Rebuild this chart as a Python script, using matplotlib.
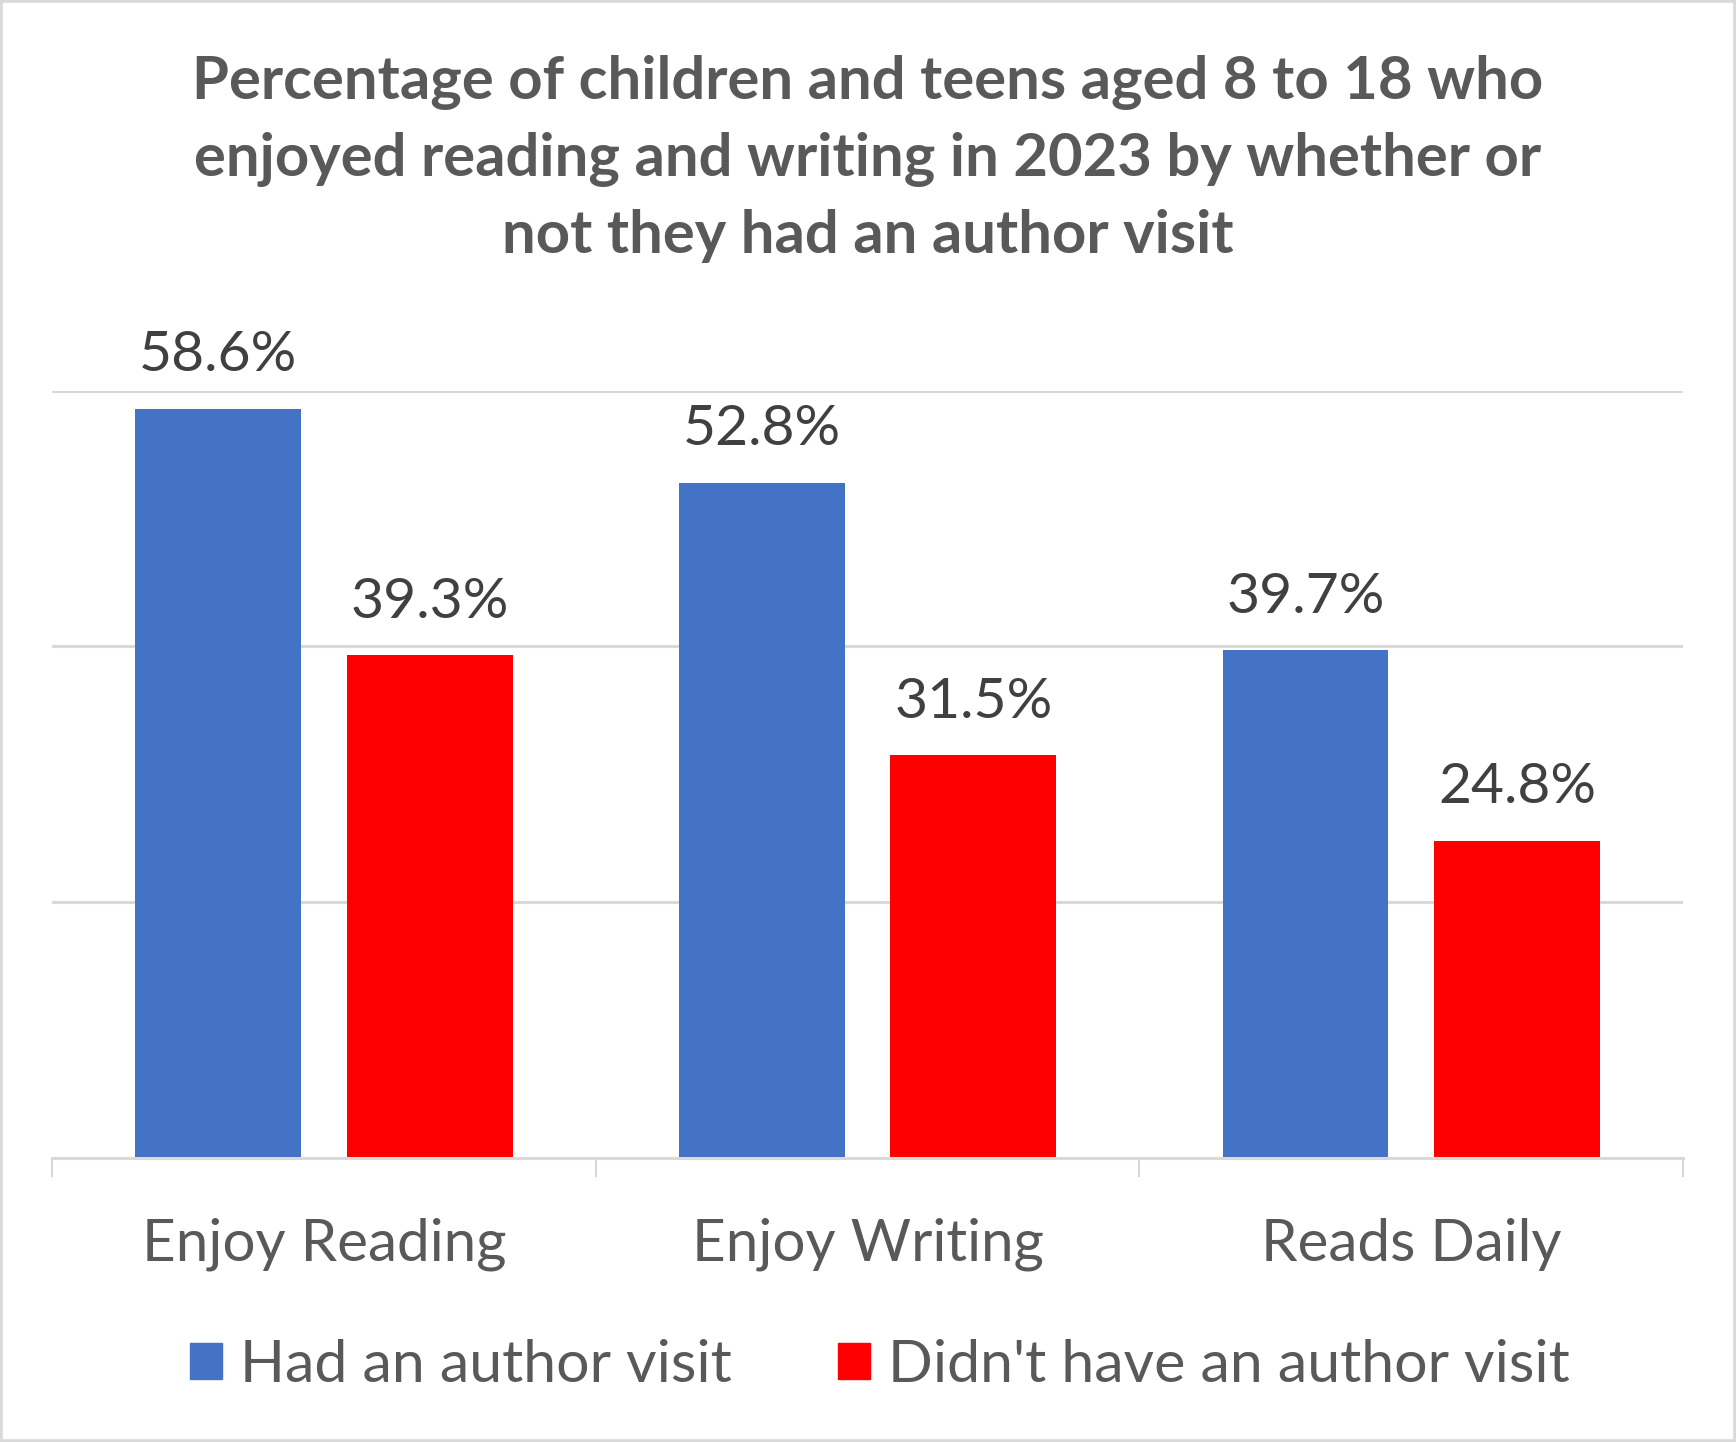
import matplotlib.pyplot as plt
from matplotlib.patches import Rectangle, Patch
import numpy as np

categories = ['Enjoy Reading', 'Enjoy Writing', 'Reads Daily']
had_visit = [58.6, 52.8, 39.7]
no_visit = [39.3, 31.5, 24.8]
series_names = ["Had an author visit", "Didn't have an author visit"]
title = ('Percentage of children and teens aged 8 to 18 who\n'
         'enjoyed reading and writing in 2023 by whether or\n'
         'not they had an author visit')

BLUE = '#4472C4'
RED = '#FF0000'
GRID = '#D9D9D9'
TEXT = '#595959'
LABEL = '#404040'

plt.rcParams['font.family'] = ['Lato', 'DejaVu Sans']

fig = plt.figure(figsize=(17.36, 14.42), dpi=100)
ax = fig.add_axes([0.030, 0.197, 0.9395, 0.532])

x = np.arange(len(categories))
width = 0.305
off = 0.1945
b1 = ax.bar(x - off, had_visit, width, color=BLUE, label=series_names[0])
b2 = ax.bar(x + off, no_visit, width, color=RED, label=series_names[1])

for bars in (b1, b2):
    for rect in bars:
        h = rect.get_height()
        ax.annotate(f'{h:.1f}%', xy=(rect.get_x() + rect.get_width() / 2, h),
                    xytext=(0, 27), textcoords='offset points',
                    ha='center', va='baseline', fontsize=41, color=LABEL)

ax.set_xlim(-0.5, 2.5)
ax.set_ylim(0, 60)
ax.set_yticks([20, 40, 60])
ax.yaxis.grid(True, color=GRID, linewidth=2.2)
ax.set_axisbelow(True)
ax.tick_params(axis='y', left=False, labelleft=False)

ax.set_xticks(x, categories)
ax.set_xticks([-0.5, 0.5, 1.5, 2.5], minor=True)
ax.tick_params(axis='x', which='major', length=0, pad=43, labelsize=42, labelcolor=TEXT)
ax.tick_params(axis='x', which='minor', length=14, width=1.5, color=GRID)

for s in ['top', 'right', 'left']:
    ax.spines[s].set_visible(False)
ax.spines['bottom'].set_color(GRID)
ax.spines['bottom'].set_linewidth(2.2)

fig.text(0.5, 0.962, title, ha='center', va='top', fontsize=43,
         fontweight='bold', color=TEXT, linespacing=1.5)

handles = [Patch(color=BLUE), Patch(color=RED)]
fig.legend(handles, series_names, loc='center', bbox_to_anchor=(0.5067, 0.053),
           ncol=2, frameon=False, fontsize=42.5, labelcolor=TEXT,
           handlelength=0.55, handleheight=0.55, handletextpad=0.3,
           columnspacing=1.8)

fig.patches.append(Rectangle((0, 0), 1, 1, transform=fig.transFigure,
                             fill=False, edgecolor=GRID, linewidth=4))

fig.savefig('out.png', dpi=100)
